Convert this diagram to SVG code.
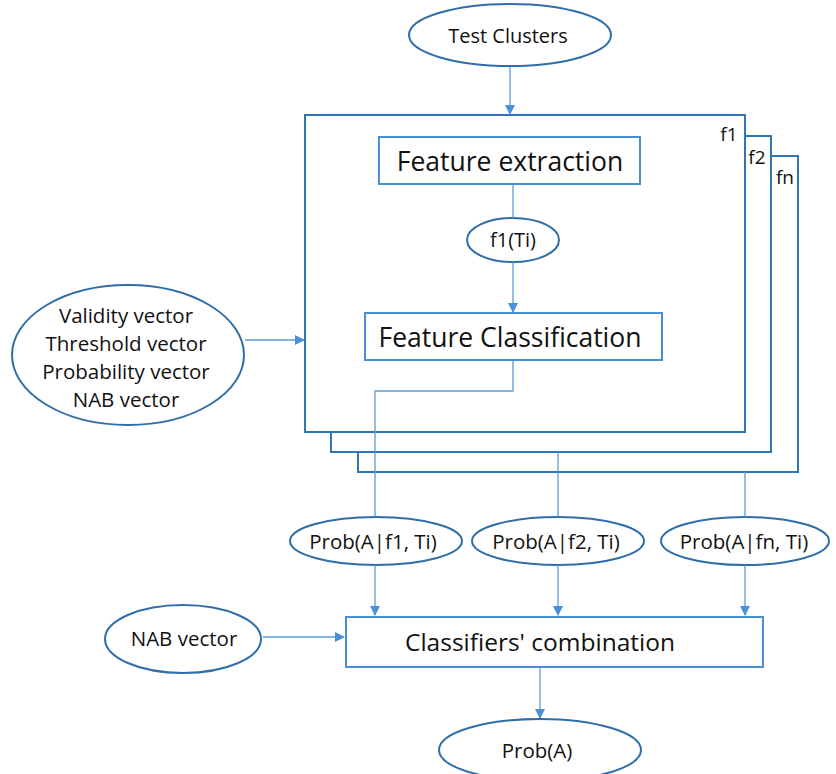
<svg xmlns="http://www.w3.org/2000/svg" width="836" height="774" viewBox="0 0 836 774">
<defs>
<marker id="ah" markerWidth="10" markerHeight="10" refX="9" refY="5" orient="auto" markerUnits="userSpaceOnUse">
<path d="M0,0 L10,5 L0,10 z" fill="#4a90d9"/>
</marker>
<style>
.el{fill:#fff;stroke:#2f6eaa;stroke-width:2}
.bx{fill:#fff;stroke:#4a8fd6;stroke-width:2}
.fr{fill:#fff;stroke:#2e75b6;stroke-width:2}
.cn{fill:none;stroke:#5b9bd5;stroke-width:1.3}
text{font-family:"Open Sans","Noto Sans",sans-serif;fill:#111;text-anchor:middle}
.s{font-size:20.5px}
.l{font-size:26.5px}
</style>
</defs>
<rect width="836" height="774" fill="#fff"/>
<g id="frame-fn"><rect class="fr" x="358" y="156" width="440" height="316"/><text x="785" y="184" style="font-size:19px">fn</text></g>
<g id="frame-f2"><rect class="fr" x="331" y="136" width="440" height="316"/><text x="757" y="164" style="font-size:19px">f2</text></g>
<g id="frame-f1"><rect class="fr" x="305" y="115" width="440" height="317"/><text x="729" y="141" style="font-size:19px">f1</text></g>
<g id="test-clusters"><ellipse class="el" cx="510" cy="35" rx="101" ry="31"/><text x="508" y="43" style="font-size:20px">Test Clusters</text></g>
<g id="feature-extraction"><rect class="bx" x="379" y="137" width="261" height="47"/><text x="510" y="171" class="l">Feature extraction</text></g>
<g id="f1ti"><ellipse class="el" cx="513" cy="240" rx="46" ry="22"/><text x="513" y="247" style="font-size:20px">f1(Ti)</text></g>
<g id="feature-classification"><rect class="bx" x="365" y="313" width="297" height="47"/><text x="510" y="347" class="l">Feature Classification</text></g>
<g id="vectors"><ellipse class="el" cx="128" cy="355" rx="116" ry="70"/>
<text class="s"><tspan x="126" y="323">Validity vector</tspan><tspan x="126" y="351">Threshold vector</tspan><tspan x="126" y="379">Probability vector</tspan><tspan x="126" y="407">NAB vector</tspan></text></g>
<g id="prob1"><ellipse class="el" cx="376" cy="541" rx="86" ry="24"/><text x="373" y="549" class="s">Prob(A|f1, Ti)</text></g>
<g id="prob2"><ellipse class="el" cx="558" cy="541" rx="86" ry="24"/><text x="556" y="549" class="s">Prob(A|f2, Ti)</text></g>
<g id="probn"><ellipse class="el" cx="745" cy="541" rx="84" ry="24"/><text x="744" y="549" class="s">Prob(A|fn, Ti)</text></g>
<g id="nab"><ellipse class="el" cx="183" cy="639" rx="78" ry="34"/><text x="184" y="646" class="s">NAB vector</text></g>
<g id="combination"><rect class="bx" x="346" y="617" width="417" height="50"/><text x="540" y="651" style="font-size:24.5px">Classifiers' combination</text></g>
<g id="proba"><ellipse class="el" cx="540" cy="750" rx="101" ry="31"/><text x="537" y="758" class="s">Prob(A)</text></g>
<g id="connectors">
<line class="cn" x1="510" y1="67" x2="510" y2="114" marker-end="url(#ah)"/>
<line class="cn" x1="513" y1="184" x2="513" y2="218"/>
<line class="cn" x1="513" y1="262" x2="513" y2="312" marker-end="url(#ah)"/>
<line class="cn" x1="245" y1="340" x2="304" y2="340" marker-end="url(#ah)"/>
<polyline class="cn" points="513,360 513,391 375,391 375,517"/>
<line class="cn" x1="558" y1="452" x2="558" y2="517"/>
<line class="cn" x1="745" y1="472" x2="745" y2="517"/>
<line class="cn" x1="375" y1="565" x2="375" y2="615" marker-end="url(#ah)"/>
<line class="cn" x1="558" y1="565" x2="558" y2="615" marker-end="url(#ah)"/>
<line class="cn" x1="745" y1="565" x2="745" y2="615" marker-end="url(#ah)"/>
<line class="cn" x1="263" y1="637" x2="344" y2="637" marker-end="url(#ah)"/>
<line class="cn" x1="540" y1="667" x2="540" y2="718" marker-end="url(#ah)"/>
</g>
</svg>
